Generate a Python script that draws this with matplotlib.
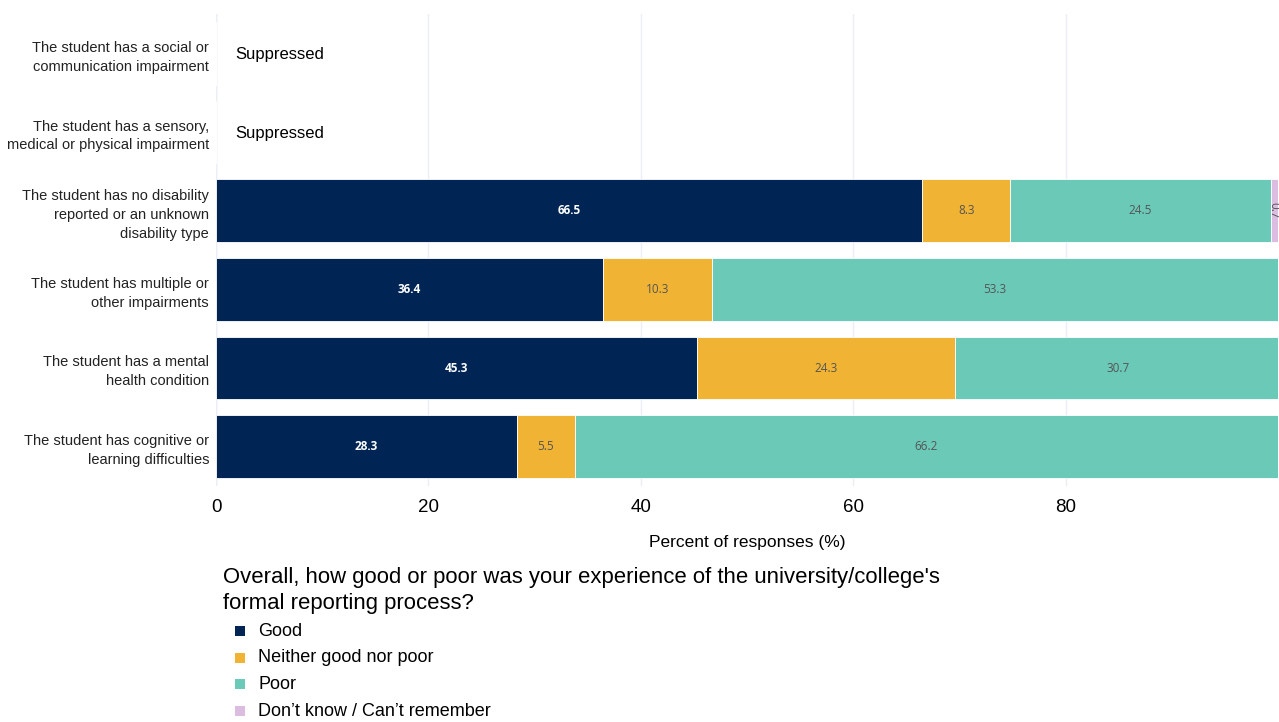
import numpy as np
import matplotlib.pyplot as plt
from matplotlib.patches import Rectangle

plt.rcParams['font.family'] = ['Liberation Sans', 'DejaVu Sans']

# Survey groups, top to bottom
groups = ['The student has a social or\ncommunication impairment',
          'The student has a sensory,\nmedical or physical impairment',
          'The student has no disability\nreported or an unknown\ndisability type',
          'The student has multiple or\nother impairments',
          'The student has a mental\nhealth condition',
          'The student has cognitive or\nlearning difficulties']
suppressed = [True, True, False, False, False, False]

good = [np.nan, np.nan, 66.5, 36.4, 45.3, 28.3]
neither = [np.nan, np.nan, 8.3, 10.3, 24.3, 5.5]
poor = [np.nan, np.nan, 24.5, 53.3, 30.7, 66.2]
dont_know = [np.nan, np.nan, 0.7, 0.0, 0.0, 0.0]

series = [('Good', good, '#002554', 'white'),
          ('Neither good nor poor', neither, '#F0B334', '#555555'),
          ('Poor', poor, '#6BC9B8', '#555555'),
          ('Don’t know / Can’t remember', dont_know, '#DCBCE0', '#555555')]

fig = plt.figure(figsize=(12.79, 7.22), dpi=100)
ax = fig.add_axes([216 / 1279, 1 - 486 / 722, 1062 / 1279, 472 / 722])

y = np.arange(len(groups))[::-1]
left = np.zeros(len(groups))
for name, vals, color, tcol in series:
    v = np.nan_to_num(np.array(vals, dtype=float))
    ax.barh(y, v, left=left, height=0.8, color=color, edgecolor='white', linewidth=0.6, zorder=2)
    for yi, l, w in zip(y, left, v):
        if w <= 0:
            continue
        rot = -90 if w < 2 else 0
        ax.text(l + w / 2, yi, f'{w:.1f}', ha='center', va='center', rotation=rot,
                fontsize=8.5, color=tcol, zorder=3, family=['Open Sans', 'DejaVu Sans'],
                fontweight='bold' if tcol == 'white' else 'normal')
    left = left + v

for yi, s in zip(y, suppressed):
    if s:
        ax.text(1.8, yi - 0.02, 'Suppressed', ha='left', va='center', fontsize=12, color='black')

ax.set_xlim(0, 100)
ax.set_ylim(-0.5, len(groups) - 0.5)
ax.set_xticks([0, 20, 40, 60, 80])
ax.tick_params(axis='x', length=0, labelsize=13.5, pad=9)
ax.set_yticks(y)
ax.set_yticklabels(groups, fontsize=10.5, color='#222222', linespacing=1.45)
ax.tick_params(axis='y', length=0, pad=5)
ax.grid(axis='x', color='#EBEEF5', linewidth=1, zorder=0)
ax.axvline(0, color='#E4E8F2', linewidth=1, zorder=1)
for sp in ax.spines.values():
    sp.set_visible(False)
ax.set_xlabel('Percent of responses (%)', fontsize=12.5, labelpad=14)

# Legend drawn as figure text with square markers
fig.text(223 / 1279, 1 - 577 / 722, 'Overall, how good or poor was your experience of the university/college\'s',
         fontsize=15.9, va='center', ha='left')
fig.text(223 / 1279, 1 - 604 / 722, 'formal reporting process?', fontsize=15.9, va='center', ha='left')
for i, (name, vals, color, tcol) in enumerate(series):
    yc = 631 + i * 26.7
    fig.patches.append(Rectangle((235 / 1279, 1 - (yc + 5) / 722), 10 / 1279, 10 / 722,
                                 transform=fig.transFigure, facecolor=color, edgecolor='none'))
    fig.text(258 / 1279, 1 - yc / 722, name, fontsize=13, va='center', ha='left')

fig.savefig('out.png', dpi=100)
